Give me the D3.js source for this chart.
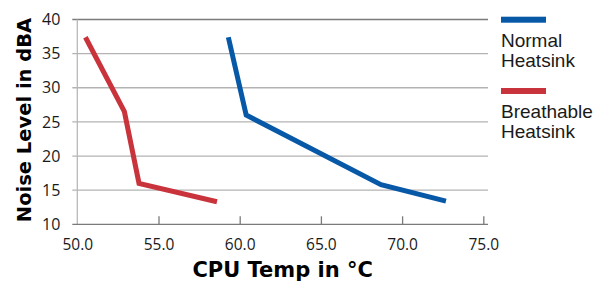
<!DOCTYPE html>
<html>
<head>
<meta charset="utf-8">
<script src="https://cdn.jsdelivr.net/npm/d3@7"></script>
<style>
  body { margin: 0; background: #fff; }
  svg { display: block; }
</style>
</head>
<body>
<script>
"use strict";
(function(){

    // values
    const xTicks = [50, 55, 60, 65, 70, 75]
    const yTicks = [10, 15, 20, 25, 30, 35, 40]

    const normalTemp = [59.3, 60.4, 68.7, 72.7]
    const normalNoise = [37.4, 26.0, 15.8, 13.4]

    const breathableTemp = [50.5, 52.9, 53.8, 58.6]
    const breathableNoise = [37.4, 26.5, 16.0, 13.3]

    const seriesNames = ["Normal\nHeatsink", "Breathable\nHeatsink"]

    const colors = {
        normal: "#0759a8",
        breathable: "#c9333c"
    }

    const measurements = {
        width: 605,
        height: 281,
        left: 77.3,
        right: 483.3,
        top: 19.5,
        bottom: 224.3,
        gridEnd: 488
    }

    const svgContainer = d3.select("body").append("svg")
        .attr("width", measurements.width)
        .attr("height", measurements.height)

    const scaleX = d3.scaleLinear()
        .domain([50, 75])
        .range([measurements.left, measurements.right])

    const scaleY = d3.scaleLinear()
        .domain([10, 40])
        .range([measurements.bottom, measurements.top])

    // horizontal grid lines
    svgContainer.append("g")
        .selectAll("line")
        .data(yTicks.filter(d => d > 10))
        .enter()
        .append("line")
            .attr("x1", measurements.left - 5)
            .attr("x2", measurements.gridEnd)
            .attr("y1", d => scaleY(d))
            .attr("y2", d => scaleY(d))
            .attr("stroke", d => d === 40 ? "#7a7a7a" : "#b3b3b3")
            .attr("stroke-width", 1.3)

    // y axis line
    svgContainer.append("line")
        .attr("x1", measurements.left)
        .attr("x2", measurements.left)
        .attr("y1", scaleY(40))
        .attr("y2", scaleY(10))
        .attr("stroke", "#b8b8b8")
        .attr("stroke-width", 1.3)

    // x axis with inner ticks
    const xAxis = d3.axisBottom(scaleX)
        .tickValues(xTicks)
        .tickSizeInner(-8)
        .tickSizeOuter(0)
        .tickFormat(d3.format(".1f"))

    const gx = svgContainer.append("g")
        .attr("transform", "translate(0," + measurements.bottom + ")")
        .call(xAxis)

    gx.select(".domain")
        .attr("d", "M" + (measurements.left - 5) + ",0H" + measurements.gridEnd)
        .attr("stroke", "#7a7a7a")
        .attr("stroke-width", 1.3)
    gx.selectAll(".tick line")
        .attr("stroke", d => d === 50 ? "none" : "#7a7a7a")
        .attr("stroke-width", 1.3)
    gx.selectAll(".tick text")
        .attr("y", 14.5)
        .attr("dy", "0.71em")
        .attr("fill", "#1a1a1a")
        .style("font-family", "'Open Sans', sans-serif")
        .style("font-size", "15.5px")

    // y axis labels
    const yAxis = d3.axisLeft(scaleY)
        .tickValues(yTicks)
        .tickSize(0)
        .tickPadding(17)

    const gy = svgContainer.append("g")
        .attr("transform", "translate(" + measurements.left + ",0)")
        .call(yAxis)
    gy.select(".domain").remove()
    gy.selectAll(".tick text")
        .attr("fill", "#1a1a1a")
        .style("font-family", "'Open Sans', sans-serif")
        .style("font-size", "16px")

    // series lines
    const line = d3.line()
        .x(d => scaleX(d[0]))
        .y(d => scaleY(d[1]))

    const plotSeries = function(xs, ys, color) {
        svgContainer.append("path")
            .datum(d3.zip(xs, ys))
            .attr("d", line)
            .attr("fill", "none")
            .attr("stroke", color)
            .attr("stroke-width", 5)
            .attr("stroke-linejoin", "miter")
    }

    plotSeries(breathableTemp, breathableNoise, colors.breathable)
    plotSeries(normalTemp, normalNoise, colors.normal)

    // axis titles
    svgContainer.append("text")
        .attr("text-anchor", "middle")
        .attr("x", (measurements.left + measurements.gridEnd) / 2)
        .attr("y", 276.5)
        .style("font-family", "'DejaVu Sans', sans-serif")
        .style("font-weight", "bold")
        .style("font-size", "21px")
        .attr("fill", "#000")
        .text("CPU Temp in °C")

    svgContainer.append("text")
        .attr("text-anchor", "middle")
        .attr("transform", "translate(31,120)rotate(-90)")
        .style("font-family", "'DejaVu Sans', sans-serif")
        .style("font-weight", "bold")
        .style("font-size", "19.5px")
        .attr("fill", "#000")
        .text("Noise Level in dBA")

    // legend
    const legendColors = [colors.normal, colors.breathable]
    const legend = svgContainer.selectAll(".legend")
        .data(seriesNames)
        .enter()
        .append("g")
            .attr("transform", (d, i) => "translate(501," + (16.7 + i * 71.3) + ")")

    legend.append("rect")
        .attr("width", 45)
        .attr("height", 6)
        .attr("fill", (d, i) => legendColors[i])

    legend.append("text")
        .style("font-family", "'Liberation Sans', Arial, sans-serif")
        .style("font-size", "19px")
        .attr("fill", "#1a1a1a")
        .selectAll("tspan")
        .data(d => d.split("\n"))
        .enter()
        .append("tspan")
            .attr("x", 0)
            .attr("y", (d, i) => 30 + i * 20)
            .text(d => d)

})()
</script>
</body>
</html>
